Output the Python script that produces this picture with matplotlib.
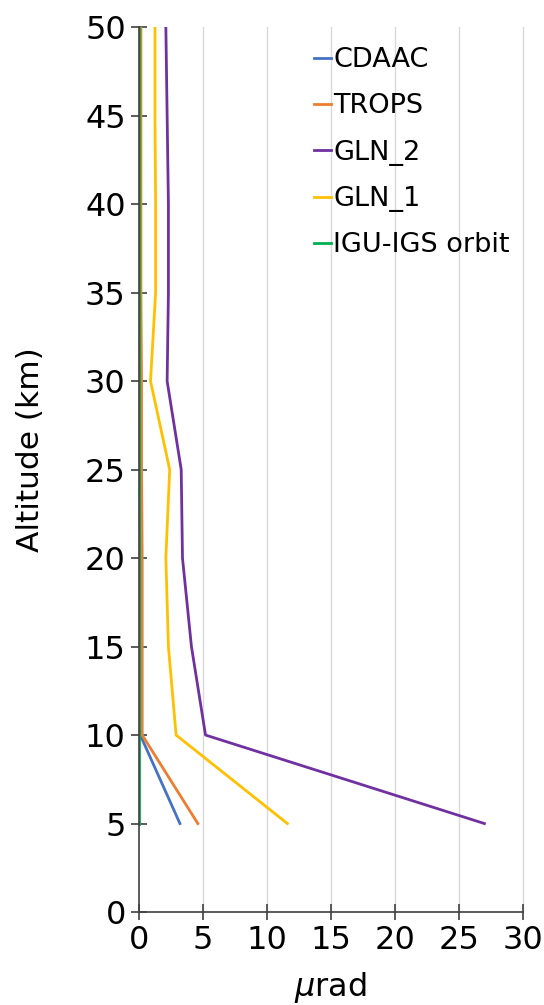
import matplotlib.pyplot as plt
import numpy as np

altitude = [5, 10, 15, 20, 25, 30, 35, 40, 45, 50]
cdaac = [3.2, 0.1, 0.1, 0.1, 0.1, 0.1, 0.1, 0.1, 0.1, 0.1]
trops = [4.6, 0.25, 0.25, 0.25, 0.2, 0.2, 0.15, 0.15, 0.15, 0.15]
gln_2 = [27.0, 5.2, 4.1, 3.4, 3.3, 2.2, 2.3, 2.3, 2.2, 2.1]
gln_1 = [11.6, 2.9, 2.3, 2.1, 2.4, 0.9, 1.3, 1.3, 1.25, 1.25]
igu_igs = [0, 0, 0, 0, 0, 0, 0, 0, 0, 0]

series = [
    ("CDAAC", cdaac, "#4472C4"),
    ("TROPS", trops, "#ED7D31"),
    ("GLN_2", gln_2, "#7030A0"),
    ("GLN_1", gln_1, "#FFC000"),
    ("IGU-IGS orbit", igu_igs, "#00B050"),
]

plt.rcParams['font.family'] = ['DejaVu Sans']
fig = plt.figure(figsize=(5.44, 10.05), dpi=100)
ax = fig.add_axes([0.2555, 0.0925, 0.7055, 0.8805])

for name, vals, col in series:
    ax.plot(vals, altitude, color=col, lw=2, label=name)

ax.set_xlim(0, 30)
ax.set_ylim(0, 50)
ax.set_xticks(np.arange(0, 31, 5))
ax.set_yticks(np.arange(0, 51, 5))
for gx in range(5, 31, 5):
    ax.axvline(gx, color='#d9d9d9', lw=1, zorder=0, clip_on=False)
for s in ['top', 'right']:
    ax.spines[s].set_visible(False)
for s in ['left', 'bottom']:
    ax.spines[s].set_color('#404040')
    ax.spines[s].set_linewidth(1.2)
ax.tick_params(direction='inout', length=12, width=1.2, color='#404040', labelsize=23)
ax.set_xlabel(r'$\mu$rad', fontsize=23, labelpad=10)
ax.set_ylabel('Altitude (km)', fontsize=22.5)
ax.yaxis.set_label_coords(-0.245, 0.522)

ax.legend(loc='upper right', bbox_to_anchor=(1.03, 1.005), frameon=False, fontsize=19.5,
          handlelength=0.6, handletextpad=0.1, labelspacing=0.75)

fig.savefig('out.png', dpi=100)
